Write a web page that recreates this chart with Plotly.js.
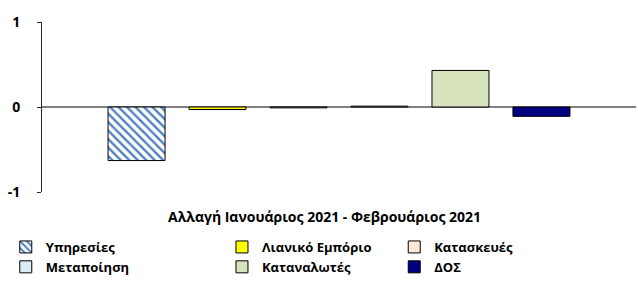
<!DOCTYPE html>
<html>
<head>
<meta charset="utf-8">
<script src="https://cdn.plot.ly/plotly-3.0.1.min.js"></script>
<style>html,body{margin:0;padding:0;background:#fff;}#chart{width:638px;height:283px;}</style>
</head>
<body>
<div id="chart"></div>
<script>
const seriesNames = ['Υπηρεσίες', 'Λιανικό Εμπόριο', 'Κατασκευές', 'Μεταποίηση', 'Καταναλωτές', 'ΔΟΣ'];
const changeValues = [-0.63, -0.03, -0.01, 0.01, 0.43, -0.11];
const category = ['Αλλαγή Ιανουάριος 2021 - Φεβρουάριος 2021'];
const yTicks = [-1, 0, 1];

const fills = ['#ffffff', '#ffff00', '#fde9d9', '#daeef3', '#d7e4bd', '#000080'];
const legendOf = ['legend', 'legend2', 'legend3', 'legend', 'legend2', 'legend3'];

const FONT = 'Open Sans, Noto Sans, sans-serif';

const traces = seriesNames.map((name, i) => {
  const marker = {color: fills[i], line: {color: '#000000', width: 1}};
  if (i === 0) {
    marker.pattern = {shape: '\\', fgcolor: '#4f81bd', bgcolor: '#ffffff', size: 6, solidity: 0.4};
  }
  return {
    type: 'bar',
    name: name,
    x: category,
    y: [changeValues[i]],
    marker: marker,
    legend: legendOf[i],
    hoverinfo: 'name+y'
  };
});

const legendBase = {
  orientation: 'v',
  yanchor: 'top',
  y: -0.228,
  xanchor: 'left',
  bgcolor: 'rgba(0,0,0,0)',
  font: {family: FONT, size: 13, color: '#000', weight: 'bold'},
  itemwidth: 30,
  tracegroupgap: 0
};

const layout = {
  width: 638,
  height: 283,
  margin: {l: 42, r: 2, t: 22, b: 90},
  paper_bgcolor: '#ffffff',
  plot_bgcolor: '#ffffff',
  barmode: 'group',
  bargap: 0.182,
  bargroupgap: 0.296,
  showlegend: true,
  font: {family: FONT, color: '#000'},
  xaxis: {
    type: 'category',
    showticklabels: false,
    showgrid: false,
    zeroline: false,
    showline: false,
    ticks: '',
    fixedrange: true
  },
  yaxis: {
    range: [-1, 1],
    tickvals: yTicks,
    ticktext: yTicks.map(String),
    showgrid: false,
    zeroline: true,
    zerolinecolor: '#808080',
    zerolinewidth: 2,
    showline: true,
    linecolor: '#262626',
    linewidth: 1,
    ticks: 'outside',
    ticklen: 4,
    tickcolor: '#262626',
    ticklabelstandoff: 14,
    tickfont: {family: FONT, size: 14, color: '#000', weight: 'bold'},
    fixedrange: true
  },
  legend: Object.assign({}, legendBase, {x: -0.061}),
  legend2: Object.assign({}, legendBase, {x: 0.303}),
  legend3: Object.assign({}, legendBase, {x: 0.593}),
  annotations: [{
    text: category[0],
    xref: 'paper', yref: 'paper',
    x: 0.475, y: -0.142,
    xanchor: 'center', yanchor: 'middle',
    showarrow: false,
    font: {family: FONT, size: 14, color: '#000', weight: 'bold'}
  }]
};

Plotly.newPlot('chart', traces, layout, {displayModeBar: false, staticPlot: true});
</script>
</body>
</html>
